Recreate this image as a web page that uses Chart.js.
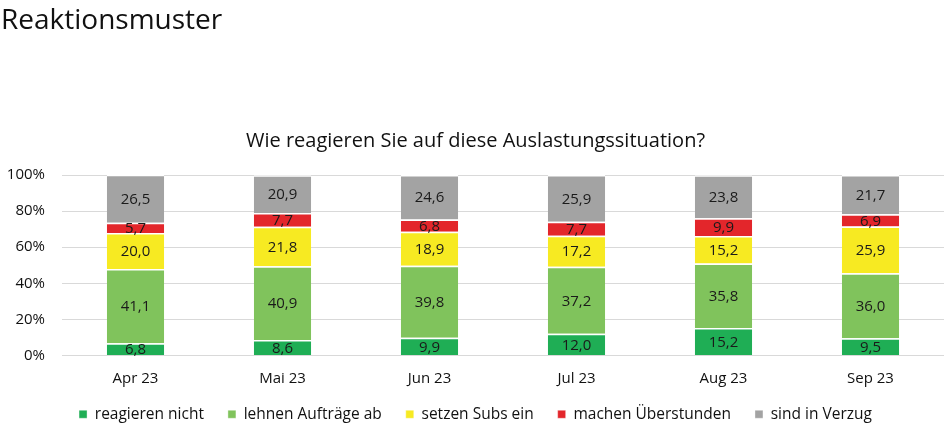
<!DOCTYPE html>
<html>
<head>
<meta charset="utf-8">
<script src="https://cdn.jsdelivr.net/npm/chart.js@4"></script>
<style>
  body { margin: 0; background: #fff; }
  #wrap { position: relative; width: 952px; height: 432px; }
  #head { position: absolute; left: 1px; top: -1px; font-family: "Open Sans", sans-serif; font-size: 28px; color: #111; }
</style>
</head>
<body>
<div id="wrap">
  <div id="head">Reaktionsmuster</div>
  <canvas id="chart" width="952" height="432"></canvas>
</div>
<script>
const months = ['Apr 23', 'Mai 23', 'Jun 23', 'Jul 23', 'Aug 23', 'Sep 23'];
const reagierenNicht = [6.8, 8.6, 9.9, 12.0, 15.2, 9.5];
const lehnenAb = [41.1, 40.9, 39.8, 37.2, 35.8, 36.0];
const setzenSubs = [20.0, 21.8, 18.9, 17.2, 15.2, 25.9];
const machenUeberstunden = [5.7, 7.7, 6.8, 7.7, 9.9, 6.9];
const inVerzug = [26.5, 20.9, 24.6, 25.9, 23.8, 21.7];

const font = "'Open Sans', sans-serif";

const data = [
    { label: 'reagieren nicht', data: reagierenNicht, backgroundColor: '#1fae55' },
    { label: 'lehnen Aufträge ab', data: lehnenAb, backgroundColor: '#80c35c' },
    { label: 'setzen Subs ein', data: setzenSubs, backgroundColor: '#f7ea22' },
    { label: 'machen Überstunden', data: machenUeberstunden, backgroundColor: '#e3262b' },
    { label: 'sind in Verzug', data: inVerzug, backgroundColor: '#a3a3a3' }
].map(d => Object.assign(d, {
    borderColor: '#ffffff',
    borderWidth: { top: 1.5, bottom: 0, left: 0, right: 0 },
    borderSkipped: false,
    categoryPercentage: 1,
    barPercentage: 0.39
}));

// values written inside the segments
const segLabels = {
    id: 'segLabels',
    afterDatasetsDraw(chart) {
        const ctx = chart.ctx;
        ctx.save();
        ctx.font = '15px ' + font;
        ctx.fillStyle = '#1a1a1a';
        ctx.textAlign = 'center';
        ctx.textBaseline = 'middle';
        chart.data.datasets.forEach((ds, i) => {
            chart.getDatasetMeta(i).data.forEach((bar, j) => {
                const txt = ds.data[j].toFixed(1).replace('.', ',');
                ctx.fillText(txt, bar.x, (bar.y + bar.base) / 2 + 1);
            });
        });
        ctx.restore();
    }
};

// legend is wide-spaced but sits close under the axis
const legendTight = {
    id: 'legendTight',
    afterInit(chart) {
        const lg = chart.legend;
        const fit = lg.fit;
        lg.fit = function () {
            fit.call(this);
            this.height -= 15;
        };
    },
    afterLayout(chart) {
        chart.legend.top -= 11;
    }
};

const config = {
    type: 'bar',
    data: {
        labels: months,
        datasets: data,
    },
    options: {
        responsive: false,
        animation: false,
        layout: { padding: { left: 7, right: 8, bottom: 4 } },
        plugins: {
            title: {
                display: true,
                text: 'Wie reagieren Sie auf diese Auslastungssituation?',
                color: '#111',
                font: { family: font, size: 20, weight: 'normal' },
                padding: { top: 129, bottom: 22 }
            },
            legend: {
                position: 'bottom',
                labels: {
                    boxWidth: 8,
                    boxHeight: 8,
                    padding: 24,
                    color: '#111',
                    font: { family: font, size: 15.5 }
                }
            },
            tooltip: { enabled: false }
        },
        scales: {
            x: {
                stacked: true,
                afterFit: scale => { scale.height -= 8; },
                grid: { display: false, drawTicks: false },
                border: { display: false },
                ticks: { color: '#111', font: { family: font, size: 15 }, padding: 14 }
            },
            y: {
                stacked: true,
                min: 0,
                max: 100,
                afterFit: scale => { scale.width = 55; },
                ticks: {
                    stepSize: 20,
                    color: '#111',
                    font: { family: font, size: 15 },
                    padding: 17,
                    callback: v => v + '%'
                },
                grid: { color: '#d9d9d9', drawTicks: false },
                border: { display: false }
            }
        }
    },
    plugins: [segLabels, legendTight]
};

const firstChart = new Chart(
document.getElementById('chart').getContext('2d'),
config
);
</script>
</body>
</html>
